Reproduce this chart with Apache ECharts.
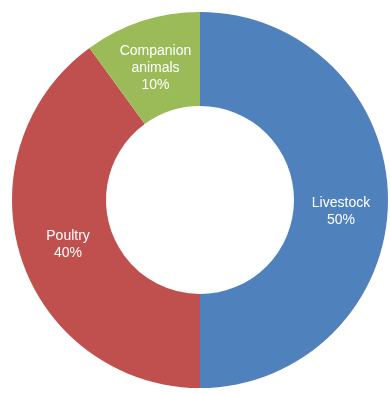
<!DOCTYPE html>
<html>
<head>
<meta charset="utf-8">
<script src="https://cdn.jsdelivr.net/npm/echarts@6/dist/echarts.min.js"></script>
<style>
  html, body { margin: 0; padding: 0; background: #fff; }
  #chart { width: 390px; height: 394px; }
</style>
</head>
<body>
<div id="chart"></div>
<script>
// 动物类别占比
var categories = ['Livestock', 'Poultry', 'Companion animals'];
var shares = [50, 40, 10];
var colors = ['#4F81BD', '#C0504D', '#9BBB59'];
// small nudges so labels sit where the original has them
var labelShift = [[-3, 12], [5, 0], [0, 5]];

var myChart = echarts.init(document.getElementById('chart'));

var data = [];
for (var i = 0; i < categories.length; i++) {
    data.push({
        value: shares[i],
        name: categories[i],
        itemStyle: { color: colors[i] },
        label: { offset: labelShift[i] }
    });
}

var option = {
    animation: false,
    series: [
        {
            type: 'pie',
            center: [200, 200],
            radius: [94, 188],
            startAngle: 90,
            clockwise: true,
            avoidLabelOverlap: false,
            label: {
                show: true,
                position: 'inside',
                color: '#fff',
                fontFamily: 'Liberation Sans',
                fontSize: 14,
                lineHeight: 17,
                align: 'center',
                formatter: function (p) {
                    return p.name.replace(' ', '\n') + '\n' + p.value + '%';
                }
            },
            labelLine: { show: false },
            itemStyle: { borderWidth: 0 },
            emphasis: { disabled: true },
            data: data
        }
    ]
};
myChart.setOption(option);
</script>
</body>
</html>
